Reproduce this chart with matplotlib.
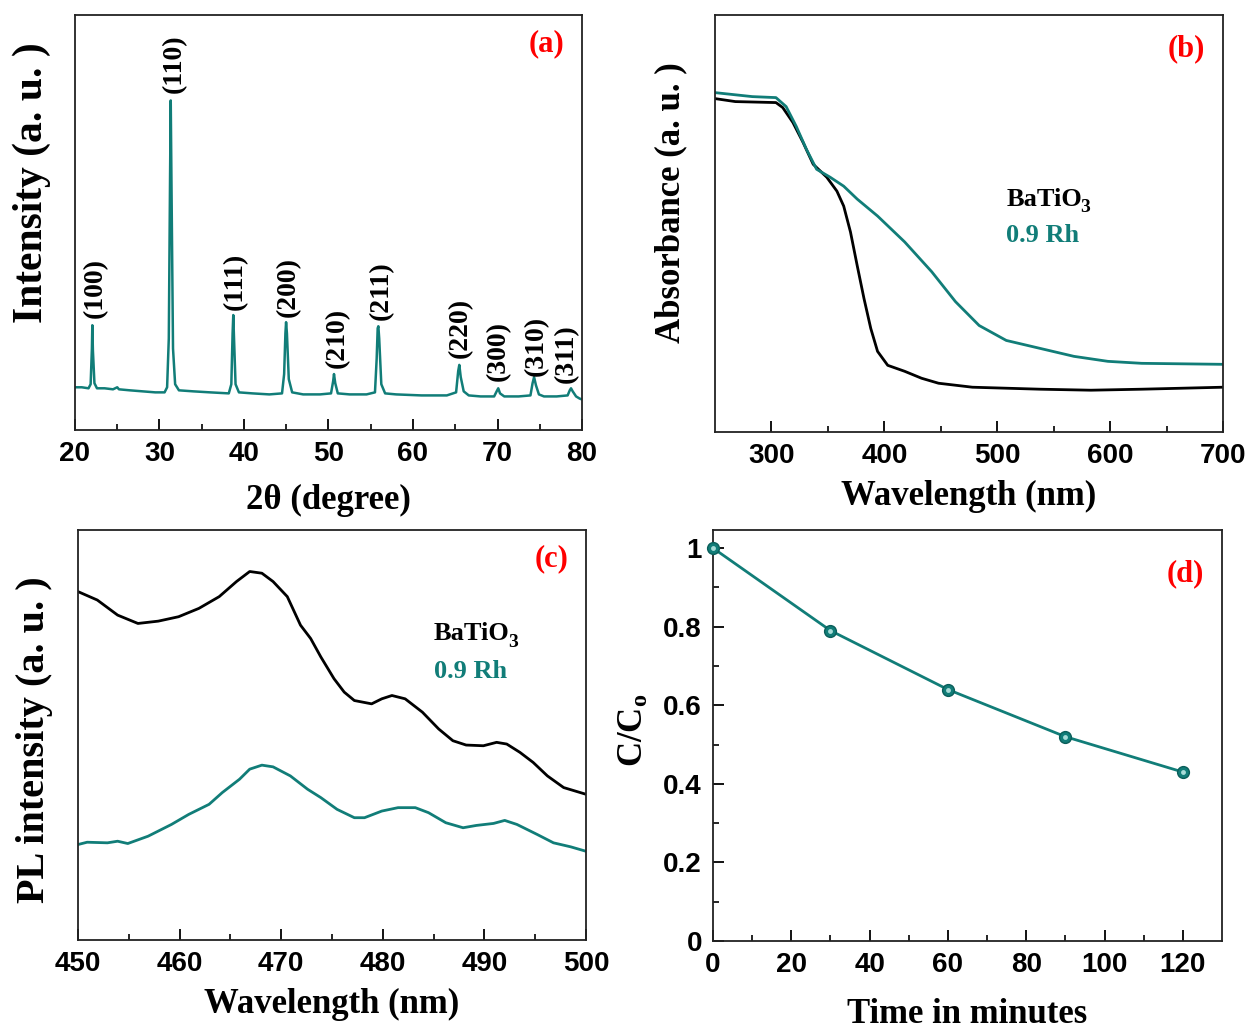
import matplotlib
matplotlib.use("Agg")
import matplotlib.pyplot as plt
from matplotlib.ticker import MultipleLocator, FixedLocator

plt.rcParams['font.family'] = ['Liberation Sans', 'DejaVu Sans']
plt.rcParams['font.weight'] = 'bold'
plt.rcParams['mathtext.fontset'] = 'custom'
plt.rcParams['mathtext.rm'] = 'Liberation Serif:bold'
plt.rcParams['mathtext.bf'] = 'Liberation Serif:bold'
plt.rcParams['mathtext.it'] = 'Liberation Serif:bold'
plt.rcParams['mathtext.default'] = 'rm'

TEAL = '#117d78'
SERIF = 'Liberation Serif'

# ---------------- (a) XRD ----------------
xrd_2theta = [20.0, 20.8, 21.6, 21.85, 22.0, 22.05, 22.12, 22.3, 22.6, 23.5, 24.5, 25.0, 25.2,
              26.5, 28.0, 29.5, 30.6, 30.9, 31.1, 31.25, 31.33, 31.42, 31.6, 31.85, 32.3, 34.0,
              36.0, 38.2, 38.5, 38.65, 38.73, 38.82, 39.0, 39.4, 41.0, 43.0, 44.5, 44.75, 44.9,
              44.98, 45.08, 45.3, 45.7, 47.0, 49.0, 50.3, 50.55, 50.65, 50.8, 51.1, 52.5, 54.5,
              55.5, 55.7, 55.82, 55.9, 56.0, 56.25, 56.7, 58.0, 61.0, 64.0, 65.1, 65.35, 65.48,
              65.65, 66.0, 66.6, 68.0, 69.6, 69.9, 70.09, 70.3, 70.8, 72.5, 73.9, 74.15, 74.33,
              74.55, 74.9, 75.5, 77.0, 78.3, 78.55, 78.7, 78.9, 79.3, 79.7, 80.0]
xrd_intensity = [42, 42, 41, 45, 80, 103, 78, 46, 41, 41, 40, 42, 40,
                 39, 38, 37, 37, 42, 90, 250, 324, 240, 80, 45, 39, 38,
                 37, 36, 45, 95, 113, 90, 45, 37, 36, 35, 36, 55, 95,
                 106, 95, 50, 37, 35, 35, 36, 48, 55, 46, 36, 35, 35,
                 37, 70, 100, 102, 90, 45, 36, 35, 34, 34, 37, 58, 64,
                 52, 38, 34, 33, 33, 38, 41, 36, 33, 33, 34, 46, 52,
                 44, 35, 33, 33, 34, 39, 41, 38, 33, 31, 30]
hkl_labels = ['(100)', '(110)', '(111)', '(200)', '(210)', '(211)', '(220)', '(300)', '(310)', '(311)']
hkl_x = [22.45, 31.8, 38.97, 45.2, 51.0, 56.2, 65.64, 70.05, 74.6, 78.15]
hkl_y = [110, 331, 118, 111, 61, 108, 71, 48, 53, 46]

# ---------------- (b) UV-vis ----------------
abs_wl_bto = [250, 268, 304, 310, 319, 328, 337, 349, 358, 364, 370, 376, 382, 388, 394, 403,
              418, 433, 448, 478, 538, 583, 628, 700]
abs_bto = [3.35, 3.32, 3.31, 3.26, 3.11, 2.91, 2.69, 2.56, 2.42, 2.27, 2.01, 1.67, 1.34, 1.04,
           0.81, 0.67, 0.61, 0.54, 0.49, 0.45, 0.43, 0.42, 0.43, 0.45]
abs_wl_rh = [250, 283, 304, 313, 322, 331, 340, 352, 364, 376, 394, 418, 442, 463, 484, 508,
             538, 568, 598, 628, 700]
abs_rh = [3.41, 3.37, 3.36, 3.27, 3.07, 2.84, 2.64, 2.56, 2.47, 2.34, 2.17, 1.91, 1.61, 1.31,
          1.07, 0.92, 0.84, 0.76, 0.71, 0.69, 0.68]

# ---------------- (c) PL ----------------
pl_wl_bto = [450.0, 451.9, 453.9, 455.9, 457.9, 459.9, 461.9, 463.9, 465.6, 466.9, 468.1, 469.2,
             470.6, 471.9, 472.9, 473.9, 475.2, 476.2, 477.2, 478.9, 479.9, 480.9, 482.2, 483.9,
             485.5, 486.9, 488.2, 489.9, 491.2, 492.2, 493.5, 494.8, 496.2, 497.8, 500.0]
pl_bto = [346.7, 338.3, 323.3, 315.0, 317.3, 321.7, 330.0, 341.7, 356.7, 366.7, 365.0, 356.7,
          341.7, 313.3, 300.0, 281.7, 260.0, 246.7, 238.3, 235.0, 240.0, 243.3, 240.0, 226.7,
          210.0, 198.3, 194.0, 193.3, 196.7, 195.0, 186.7, 176.7, 163.3, 151.7, 145.0]
pl_wl_rh = [450.0, 450.9, 452.9, 453.9, 454.9, 456.9, 459.2, 460.9, 462.9, 464.2, 465.9, 466.9,
            468.1, 469.2, 470.9, 472.6, 473.9, 475.5, 477.2, 478.2, 479.9, 481.5, 483.2, 484.5,
            486.2, 487.9, 489.2, 490.9, 492.0, 493.2, 495.2, 496.8, 498.5, 500.0]
pl_rh = [95.0, 97.3, 96.7, 98.3, 96.0, 103.3, 115.0, 125.0, 135.0, 146.7, 160.0, 170.0,
         174.0, 172.3, 163.3, 150.0, 141.7, 130.0, 121.7, 121.7, 128.3, 131.7, 131.7, 126.7,
         116.7, 111.7, 114.0, 116.0, 119.0, 115.0, 105.0, 96.7, 92.7, 88.3]

# ---------------- (d) degradation ----------------
time_min = [0, 30, 60, 90, 120]
c_ratio = [1.0, 0.79, 0.64, 0.52, 0.43]

W, H = 1247, 1029
fig = plt.figure(figsize=(W / 100, H / 100), dpi=100)


def box(l, r, t, b):
    return [l / W, 1 - b / H, (r - l) / W, (b - t) / H]


def ylab(text, x, y, size):
    fig.text(x / W, 1 - y / H, text, rotation=90, ha='center', va='center',
             family=SERIF, weight='bold', fontsize=size)


def formula(ax, x, y):
    t = ax.text(x, y, 'BaTiO', color='black', fontsize=19, family=SERIF, weight='bold',
                ha='left', va='center')
    ax.annotate('3', xy=(1.0, 0.0), xycoords=t, xytext=(-1.0, 2), textcoords='offset points',
                ha='left', va='center', fontsize=14, family=SERIF, weight='bold', color='black')


ax_a = fig.add_axes(box(75, 582, 15, 430))
ax_b = fig.add_axes(box(715, 1223, 15, 432))
ax_c = fig.add_axes(box(78, 586, 530, 940))
ax_d = fig.add_axes(box(713, 1222, 530, 941))

LABEL_FS = 25
TICK_FS = 20
TAG_FS = 22

for ax in (ax_a, ax_b, ax_c, ax_d):
    for s in ax.spines.values():
        s.set_linewidth(1.3)
        s.set_color('#222222')
    ax.tick_params(direction='in', which='major', length=8, width=1.3, labelsize=TICK_FS, pad=8)
    ax.tick_params(direction='in', which='minor', length=4.5, width=1.2)

# (a)
ax_a.plot(xrd_2theta, xrd_intensity, color=TEAL, lw=1.8)
ax_a.set_xlim(20, 80)
ax_a.set_ylim(0, 408)
ax_a.xaxis.set_major_locator(MultipleLocator(10))
ax_a.xaxis.set_minor_locator(MultipleLocator(5))
ax_a.set_yticks([])
for lab, x, y in zip(hkl_labels, hkl_x, hkl_y):
    ax_a.text(x, y, lab, rotation=90, ha='center', va='bottom', fontsize=20,
              family=SERIF, weight='bold')
ax_a.set_xlabel('2θ (degree)', family=SERIF, weight='bold', fontsize=LABEL_FS, labelpad=12)
ylab('Intensity (a. u. )', 32, 183, 30)
ax_a.text(0.965, 0.965, '(a)', transform=ax_a.transAxes, color='red', ha='right', va='top',
          fontsize=TAG_FS, family=SERIF, weight='bold')

# (b)
ax_b.plot(abs_wl_bto, abs_bto, color='black', lw=2)
ax_b.plot(abs_wl_rh, abs_rh, color=TEAL, lw=2)
ax_b.set_xlim(250, 700)
ax_b.set_ylim(0, 4.19)
ax_b.xaxis.set_major_locator(FixedLocator([300, 400, 500, 600, 700]))
ax_b.xaxis.set_minor_locator(FixedLocator([350, 450, 550, 650]))
ax_b.set_yticks([])
formula(ax_b, 508, 2.34)
ax_b.text(508, 1.97, '0.9 Rh', color=TEAL, fontsize=19, family=SERIF, weight='bold',
          ha='left', va='center')
ax_b.set_xlabel('Wavelength (nm)', family=SERIF, weight='bold', fontsize=LABEL_FS, labelpad=8)
ylab('Absorbance (a. u. )', 671, 203, 25)
ax_b.text(0.965, 0.955, '(b)', transform=ax_b.transAxes, color='red', ha='right', va='top',
          fontsize=TAG_FS, family=SERIF, weight='bold')

# (c)
ax_c.plot(pl_wl_bto, pl_bto, color='black', lw=2)
ax_c.plot(pl_wl_rh, pl_rh, color=TEAL, lw=2)
ax_c.set_xlim(450, 500)
ax_c.set_ylim(0, 408)
ax_c.xaxis.set_major_locator(MultipleLocator(10))
ax_c.xaxis.set_minor_locator(MultipleLocator(5))
ax_c.set_yticks([])
formula(ax_c, 485.0, 305)
ax_c.text(485.0, 267, '0.9 Rh', color=TEAL, fontsize=19, family=SERIF, weight='bold',
          ha='left', va='center')
ax_c.set_xlabel('Wavelength (nm)', family=SERIF, weight='bold', fontsize=LABEL_FS, labelpad=8)
ylab('PL intensity (a. u. )', 35, 740, 29)
ax_c.text(0.965, 0.965, '(c)', transform=ax_c.transAxes, color='red', ha='right', va='top',
          fontsize=TAG_FS, family=SERIF, weight='bold')

# (d)
ax_d.plot(time_min, c_ratio, color=TEAL, lw=2, marker='o', markersize=8.5,
          markerfacecolor=TEAL, markeredgecolor='#0b5e5a', clip_on=False, zorder=3)
ax_d.plot(time_min, c_ratio, linestyle='none', marker='o', markersize=3.5,
          markerfacecolor='#a8dcd8', markeredgecolor='none', clip_on=False, zorder=4)
ax_d.set_xlim(0, 130)
ax_d.set_ylim(0, 1.046)
ax_d.xaxis.set_major_locator(FixedLocator([0, 20, 40, 60, 80, 100, 120]))
ax_d.xaxis.set_minor_locator(FixedLocator([10, 30, 50, 70, 90, 110]))
ax_d.yaxis.set_major_locator(FixedLocator([0, 0.2, 0.4, 0.6, 0.8, 1.0]))
ax_d.yaxis.set_minor_locator(FixedLocator([0.1, 0.3, 0.5, 0.7, 0.9]))
ax_d.set_yticklabels(['0', '0.2', '0.4', '0.6', '0.8', '1'])
ax_d.set_xlabel('Time in minutes', family=SERIF, weight='bold', fontsize=LABEL_FS, labelpad=14)
ylab(r'C/C$_\mathrm{o}$', 634, 730, 25)
ax_d.text(0.965, 0.93, '(d)', transform=ax_d.transAxes, color='red', ha='right', va='top',
          fontsize=TAG_FS, family=SERIF, weight='bold')

fig.savefig('out.png', dpi=100)
